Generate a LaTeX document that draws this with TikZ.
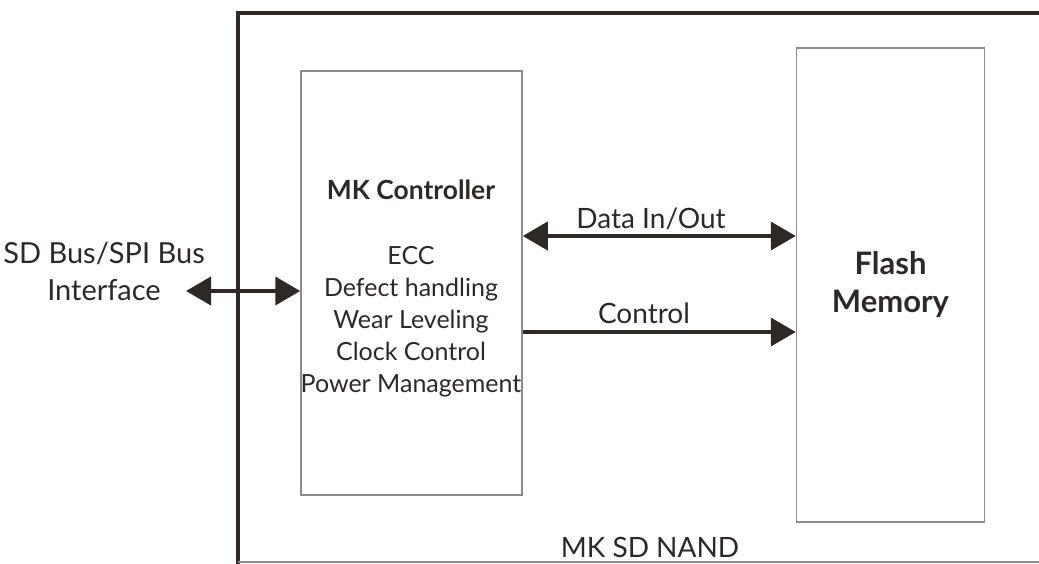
\documentclass[tikz,border=0pt]{standalone}
\usepackage{fontspec}
\setmainfont{Lato}
\usepackage{tikz}
\usetikzlibrary{arrows.meta,positioning}
\definecolor{ink}{HTML}{2E2826}
\definecolor{edge}{HTML}{8E8B8B}

\begin{document}
\begin{tikzpicture}[x=0.5pt,y=-0.5pt,node distance = 136.5pt,
  >={Triangle[length=12.5pt,width=14pt]},
  block/.style={draw=edge,line width=0.75pt,minimum width=110.5pt,minimum height=212pt,inner sep=0pt},
  bus/.style={draw=ink,line width=2pt},
  txt/.style={text=ink,align=center,inner sep=0pt,font=\fontsize{12.5}{16}\selectfont}]
\useasboundingbox (0,0) rectangle (1039,563);
% outer frame of the card
\draw[ink,line width=2pt] (238,564) -- (238,13) -- (1045,13);
\draw[edge,line width=1pt] (238,562) -- (1039,562);

\node[block] (ctrl) at (411.5,283) {};
\node[block,minimum width=94pt,minimum height=237pt] (flash) [right = of ctrl,yshift=-1pt] {};

\node[txt,font=\bfseries\fontsize{13.2}{16}\selectfont] (ctrlname) at (411,190) {MK Controller};
\node[txt] (ctrllist) at (411,321.5) {ECC\\Defect handling\\Wear Leveling\\Clock Control\\Power Management};
\node[txt,font=\bfseries\fontsize{15.5}{19}\selectfont] (flashname) at (flash) {Flash\\Memory};
\node[txt,font=\fontsize{14.5}{18.5}\selectfont] (host) at (104,271) {SD Bus/SPI Bus\\Interface};
\node[txt,font=\fontsize{14}{17}\selectfont] (nand) at (650,547) {MK SD NAND};

\coordinate (hostend) at (186,291);
\coordinate (din) at ([yshift=23.5pt]ctrl.east);
\coordinate (cin) at ([yshift=-24.5pt]ctrl.east);

\draw[bus,<->] (hostend) -- (hostend -| ctrl.west);
\draw[bus,<->] (din) -- (din -| flash.west)
      node[txt,pos=0.47,anchor=base,yshift=4pt,font=\fontsize{14}{16}\selectfont] {Data In/Out};
\draw[bus,->] (cin) -- (cin -| flash.west)
      node[txt,pos=0.444,anchor=base,yshift=4.5pt,font=\fontsize{14}{16}\selectfont] {Control};
\end{tikzpicture}
\end{document}
